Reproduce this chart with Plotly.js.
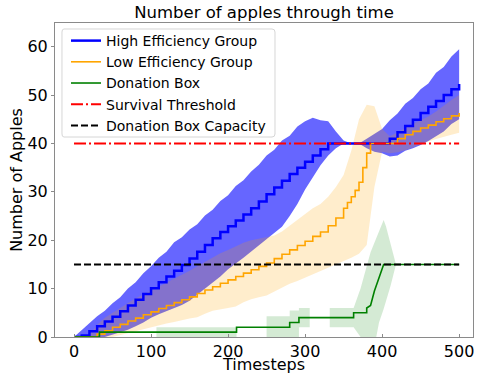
<!DOCTYPE html>
<html>
<head>
<meta charset="utf-8">
<script src="https://cdn.plot.ly/plotly-3.0.1.min.js"></script>
<style>html,body{margin:0;padding:0;background:#fff}#chart{width:479px;height:374px}</style>
</head>
<body>
<div id="chart"></div>
<script>
// ---- data ----
const timesteps = [0,10,20,30,40,50,60,70,80,90,100,110,120,130,140,150,160,170,180,190,200,210,220,230,240,250,260,270,280,290,300,310,320,330,340,350,360,370,380,390,400,410,420,430,440,450,460,470,480,490,500];

const highMean = [0,0.3,1.2,2.2,3.2,4.2,5.3,6.5,7.7,8.9,10.1,11.3,12.5,13.7,14.9,16.2,17.6,19,20.4,21.7,22.9,24.1,25.3,26.6,28,29.5,30.9,32.3,33.7,35,36.2,37.5,38.8,40,40,40,40,40,40,40,40,41,42.3,43.6,44.9,46.3,47.6,48.8,50,51.2,52.3];
const highUpper = [0,1.5,2.8,4.3,5.4,7,8.2,10,11.3,13.2,14.6,16.4,17.6,19.6,20.6,22.2,23.3,25.1,26.3,28.1,29.3,31.2,32.4,34.2,35.6,37.5,38.7,40.6,41.6,43.5,44.6,45.3,44.8,44.6,42.5,40.6,40,40,41,42,43,44.8,46.2,48.2,49.4,51.2,52.4,54.6,55.8,58,59.5];
const highLower = [0,0,0,0,0,0.5,1,1.5,2.2,3,4,4.7,5.3,6,6.6,7.5,8.7,10,11.2,12.5,14,15.2,16.4,17.6,19,20.3,21.5,22.8,25,27.5,30.5,33,35.5,37.5,39,40,40,40,39,38.3,38,37.3,37.5,38.5,39,39.7,40.5,41.5,42.5,44,45];

const lowTimesteps = [0,10,20,30,40,50,60,70,80,90,100,110,120,130,140,150,160,170,180,190,200,210,220,230,240,250,260,270,280,290,300,310,320,330,340,350,355,360,365,370,375,380,385,390,400,410,420,430,440,450,460,470,480,490,500];
const lowMean = [0,0,0,0.6,1.3,2,2.6,3.3,3.9,4.6,5.2,5.9,6.5,7.1,7.7,8.3,9,9.7,10.4,11.1,11.8,12.5,13.2,13.9,14.6,15.3,16.2,17.1,18,18.9,19.8,20.8,21.7,23,24.6,26.6,27.8,29,30.3,32,35,38,40,40,40,40,41,41.8,42.5,43.2,43.8,44.5,45.1,45.7,46.3];
const lowUpper = [0,0,0.5,2.5,4,5,6,7,8,8.8,9.6,10.4,11.2,12,12.8,13.7,14.6,15.5,16.5,17.3,18,18.8,19.5,20,20.3,20.6,21,21.8,23,24.3,25.5,26.6,27.5,29,31,33.5,38.5,45,48,47.7,43,41.5,42.3,43.2,44,44.8,45.6,46.6,47.8,49,50];
const lowLower = [0,0,0,0,0,0,0.3,0.8,1.2,1.6,2,2.4,2.8,3.1,3.4,3.8,4.1,4.8,5.4,5.7,6,6.3,7.2,7.8,8.2,8.6,9.4,10.2,11,11.6,12.2,13,13.6,14.3,15,15.7,16.4,17.2,19,31,38.3,38,38.2,38.6,39.2,39.8,40.4,40.9,41.4,41.8,42.2];

const boxTimesteps = [0,33,33,107,107,211,211,250,250,280,280,292,292,306,306,332,332,363,363,372,380,380,385,390,396,402,405,411,418,500];
const boxMean  = [0,0,1,1,1,1,2,2,2,2,3,3,4,4,4,4,4,4,5,5,5,6,6.5,9.5,12.3,15,15,15,15,15];
const boxUpper = [0,0,1,1,2,2,2,2,4.3,4.3,5.5,5.5,6,6,4,4,6,6,6,10,14.6,14.6,17.5,19.5,22,24.2,22.9,19.4,15,15];
const boxLower = [0,0,1,1,0,0,2,2,0,0,0,0,2,2,4,4,2,2,2,0,-3,-3,-4,-2,3,5.8,7.1,10.6,15,15];

const survivalThreshold = 40;
const boxCapacity = 15;
const tStart = 0, tEnd = 500;

// ---- helpers ----
function band(x, up, lo, color) {
  return {
    x: x.concat(x.slice().reverse()),
    y: up.concat(lo.slice().reverse()),
    type: 'scatter', mode: 'lines', fill: 'toself',
    fillcolor: color, line: {width: 0, color: 'rgba(0,0,0,0)'},
    showlegend: false, hoverinfo: 'skip'
  };
}
const font = 'DejaVu Sans, sans-serif';

const traces = [
  band(timesteps, highUpper, highLower, 'rgba(0,0,255,0.6)'),
  band(timesteps, lowUpper, lowLower, 'rgba(255,165,0,0.2)'),
  band(boxTimesteps, boxUpper, boxLower, 'rgba(0,128,0,0.17)'),
  {x: timesteps, y: highMean, type: 'scatter', mode: 'lines', name: 'High Efficiency Group',
   line: {color: '#0000ff', width: 2.5, shape: 'hv'}},
  {x: lowTimesteps, y: lowMean, type: 'scatter', mode: 'lines', name: 'Low Efficiency Group',
   line: {color: '#ffa500', width: 1.6, shape: 'hv'}},
  {x: boxTimesteps, y: boxMean, type: 'scatter', mode: 'lines', name: 'Donation Box',
   line: {color: '#008000', width: 1.6}},
  {x: [tStart, tEnd], y: [survivalThreshold, survivalThreshold], type: 'scatter', mode: 'lines',
   name: 'Survival Threshold', line: {color: '#ff0000', width: 2, dash: '12px,3px,2px,3px'}},
  {x: [tStart, tEnd], y: [boxCapacity, boxCapacity], type: 'scatter', mode: 'lines',
   name: 'Donation Box Capacity', line: {color: '#000000', width: 2, dash: '7px,3px'}}
];

const axisCommon = {
  showline: true, mirror: true, linecolor: '#8a8a8a', linewidth: 1,
  ticks: 'outside', ticklen: 3, tickcolor: '#8a8a8a', tickwidth: 1,
  showgrid: false, zeroline: false,
  tickfont: {family: font, size: 16, color: '#000'}
};

const layout = {
  width: 479, height: 374,
  margin: {l: 55, r: 6, t: 23, b: 37, pad: 0},
  paper_bgcolor: '#fff', plot_bgcolor: '#fff',
  font: {family: font, color: '#000'},
  title: {text: 'Number of apples through time', font: {family: font, size: 16.5, color: '#000'},
          x: 0.5, xref: 'paper', xanchor: 'center', y: 1, yref: 'paper', yanchor: 'bottom', pad: {b: 5}},
  xaxis: Object.assign({}, axisCommon, {
    range: [-24.7, 518], tickvals: [0,100,200,300,400,500], ticks: 'inside', ticklen: 3,
    title: {text: 'Timesteps', font: {family: font, size: 16, color: '#000'}, standoff: 0}
  }),
  yaxis: Object.assign({}, axisCommon, {
    range: [0, 64.9], tickvals: [0,10,20,30,40,50,60],
    title: {text: 'Number of Apples', font: {family: font, size: 16, color: '#000'}, standoff: 0}
  }),
  // legend frame (white, semi-transparent, rounded) drawn as a shape so the entries keep their spacing
  shapes: [{
    type: 'path', xref: 'paper', yref: 'paper', layer: 'above',
    path: 'M 0.0215 0.9809 L 0.5191 0.9809 Q 0.5263 0.9809 0.5263 0.9713 L 0.5263 0.6465 Q 0.5263 0.6369 0.5191 0.6369 L 0.0215 0.6369 Q 0.0167 0.6369 0.0167 0.6465 L 0.0167 0.9713 Q 0.0167 0.9809 0.0215 0.9809 Z',
    fillcolor: 'rgba(255,255,255,0.8)', line: {color: '#d6d6d6', width: 1}
  }],
  legend: {x: 0.0263, y: 0.9936, xanchor: 'left', yanchor: 'top',
           bgcolor: 'rgba(255,255,255,0)', borderwidth: 0,
           font: {family: font, size: 14, color: '#000'}},
  showlegend: true
};

Plotly.newPlot('chart', traces, layout, {displayModeBar: false, staticPlot: true});
</script>
</body>
</html>
